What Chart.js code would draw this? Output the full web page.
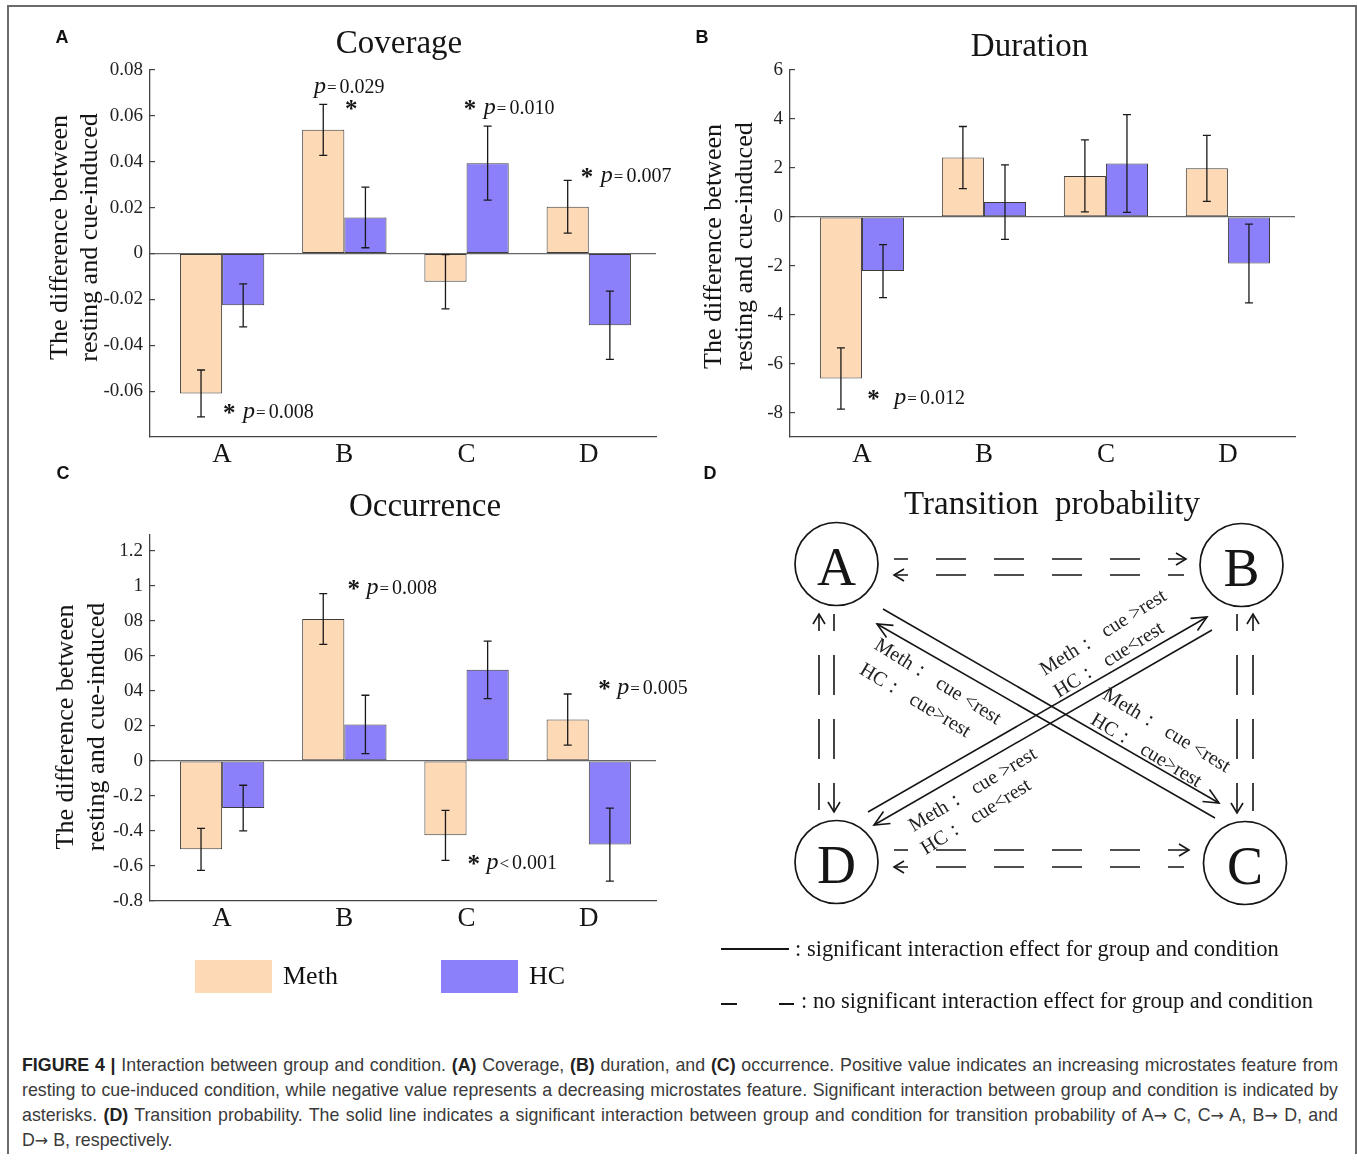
<!DOCTYPE html>
<html>
<head>
<meta charset="utf-8">
<title>Figure 4 - Interaction between group and condition</title>
<script src="https://cdn.jsdelivr.net/npm/chart.js@4.4.0/dist/chart.umd.min.js"></script>
<style>
  html, body { margin: 0; padding: 0; background: #fff; }
  body { width: 1357px; height: 1161px; position: relative; overflow: hidden; }
  .frame { position: absolute; left: 7px; top: 5px; width: 1346px; height: 1147px;
           border: 2px solid #6b6b6b; border-bottom: none; }
  canvas { position: absolute; }
  .tag { position: absolute; font: bold 18px 'Liberation Sans', Arial, sans-serif; color: #111;
         transform: translate(-50%, -50%); }
  .legend-box { position: absolute; width: 77px; height: 33px; }
  .legend-text { position: absolute; font: 26px 'Liberation Serif', serif; color: #111;
                 transform: translateY(-50%); }
  #panelD { position: absolute; left: 0; top: 0; }
  .caption { position: absolute; left: 22px; top: 1053px; width: 1316px;
             font: 16px 'Liberation Sans', Arial, sans-serif; color: #3a3a3a; }
  .caption div { height: 25px; line-height: 25px; white-space: nowrap;
                 text-align: justify; text-align-last: justify; }
  .caption div.last { text-align-last: left; }
  .caption b { color: #222; }
  .arr { font-family: 'DejaVu Sans', sans-serif; font-size: 0.9em; }
  .measure { position: absolute; visibility: hidden; white-space: nowrap;
             font: 16px 'Liberation Sans', Arial, sans-serif; }
</style>
</head>
<body>
<div class="frame"></div>

<canvas id="coverage" width="680" height="470" style="left:0px; top:0px;"></canvas>
<canvas id="duration" width="677" height="470" style="left:680px; top:0px;"></canvas>
<canvas id="occurrence" width="720" height="480" style="left:0px; top:470px;"></canvas>
<svg id="panelD" width="1357" height="1040" xmlns="http://www.w3.org/2000/svg"></svg>

<div class="tag" style="left:62px; top:37px;">A</div>
<div class="tag" style="left:702px; top:37px;">B</div>
<div class="tag" style="left:63px; top:473px;">C</div>
<div class="tag" style="left:710px; top:473px;">D</div>

<div id="legend"></div>

<div class="caption" id="caption">
  <div><b>FIGURE 4 |</b> Interaction between group and condition. <b>(A)</b> Coverage, <b>(B)</b> duration, and <b>(C)</b> occurrence. Positive value indicates an increasing microstates feature from</div>
  <div>resting to cue-induced condition, while negative value represents a decreasing microstates feature. Significant interaction between group and condition is indicated by</div>
  <div>asterisks. <b>(D)</b> Transition probability. The solid line indicates a significant interaction between group and condition for transition probability of A<span class="arr">→</span> C, C<span class="arr">→</span> A, B<span class="arr">→</span> D, and</div>
  <div class="last">D<span class="arr">→</span> B, respectively.</div>
</div>

<script>
// ---- data ----
const CATEGORIES = ['A', 'B', 'C', 'D'];
const GROUPS = ['Meth', 'HC'];

const coverageMeth = [-0.061, 0.0539, -0.0123, 0.0204];
const coverageMethErr = [0.0102, 0.0111, 0.0118, 0.0115];
const coverageHC = [-0.0226, 0.0157, 0.0394, -0.0313];
const coverageHCErr = [0.0094, 0.0132, 0.0161, 0.0149];
const coverageTicks = [-0.06, -0.04, -0.02, 0, 0.02, 0.04, 0.06, 0.08];
const coverageTickLabels = ['-0.06', '-0.04', '-0.02', '0', '0.02', '0.04', '0.06', '0.08'];

const durationMeth = [-6.61, 2.42, 1.67, 1.98];
const durationMethErr = [1.25, 1.27, 1.47, 1.35];
const durationHC = [-2.22, 0.60, 2.18, -1.91];
const durationHCErr = [1.08, 1.52, 2.0, 1.61];
const durationTicks = [-8, -6, -4, -2, 0, 2, 4, 6];
const durationTickLabels = ['-8', '-6', '-4', '-2', '0', '2', '4', '6'];

const occurrenceMeth = [-0.505, 0.81, -0.425, 0.236];
const occurrenceMethErr = [0.12, 0.145, 0.143, 0.146];
const occurrenceHC = [-0.269, 0.208, 0.52, -0.478];
const occurrenceHCErr = [0.13, 0.167, 0.164, 0.208];
const occurrenceTicks = [-0.8, -0.6, -0.4, -0.2, 0, 0.2, 0.4, 0.6, 0.8, 1, 1.2];
const occurrenceTickLabels = ['-0.8', '-0.6', '-0.4', '-0.2', '0', '02', '04', '06', '08', '1', '1.2'];

// significance notes (anchor in data units)
const coverageNotes = [
    { x: 1.752, y: 0.0730, star: false, op: '=', p: '0.029' },
    { x: 2.014, y: 0.0639, star: true, op: '', p: '' },
    { x: 2.986, y: 0.0639, star: true, op: '=', p: '0.010' },
    { x: 3.943, y: 0.0343, star: true, op: '=', p: '0.007' },
    { x: 1.016, y: -0.0687, star: true, op: '=', p: '0.008' }
];
const durationNotes = [
    { x: 1.052, y: -7.35, star: true, op: '=', p: '0.012' }
];
const occurrenceNotes = [
    { x: 2.034, y: 0.995, star: true, op: '=', p: '0.008' },
    { x: 4.085, y: 0.421, star: true, op: '=', p: '0.005' },
    { x: 3.015, y: -0.58, star: true, op: '<', p: '0.001' }
];

const Y_TITLE = ['The difference between', 'resting and cue-induced'];

const METH_COLOR = '#FDD9B6';
const HC_COLOR = '#8C7FFA';
const AXIS_COLOR = '#444';
const ZERO_COLOR = '#666';
const INK = '#151515';
const SERIF = "'Liberation Serif', 'Times New Roman', serif";

// ---- plugins ----
const errorBarPlugin = {
    id: 'errorBars',
    afterDatasetsDraw(chart) {
        const { ctx, scales: { y } } = chart;
        ctx.save();
        ctx.strokeStyle = '#1a1a1a';
        ctx.lineWidth = 1.3;
        chart.data.datasets.forEach((ds, di) => {
            chart.getDatasetMeta(di).data.forEach((bar, i) => {
                const v = ds.data[i].y;
                const e = ds.errors[i];
                const top = y.getPixelForValue(v + e);
                const bot = y.getPixelForValue(v - e);
                ctx.beginPath();
                ctx.moveTo(bar.x, top); ctx.lineTo(bar.x, bot);
                ctx.moveTo(bar.x - 4, top); ctx.lineTo(bar.x + 4, top);
                ctx.moveTo(bar.x - 4, bot); ctx.lineTo(bar.x + 4, bot);
                ctx.stroke();
            });
        });
        ctx.restore();
    }
};

const panelTextPlugin = {
    id: 'panelText',
    afterDraw(chart, args, opts) {
        const { ctx, chartArea: a, scales: { x, y } } = chart;
        ctx.save();
        ctx.fillStyle = INK;

        // title
        ctx.font = '33px ' + SERIF;
        ctx.textAlign = 'center';
        ctx.textBaseline = 'middle';
        ctx.fillText(opts.title, (a.left + a.right) / 2 + opts.titleDx, a.top + opts.titleDy);

        // y axis title, two rotated lines
        ctx.font = '26px ' + SERIF;
        Y_TITLE.forEach((line, i) => {
            ctx.save();
            ctx.translate(a.left + opts.yTitleDx[i], (a.top + a.bottom) / 2 + opts.yTitleDy);
            ctx.rotate(-Math.PI / 2);
            ctx.fillText(line, 0, 0);
            ctx.restore();
        });

        // significance notes
        ctx.textAlign = 'left';
        ctx.textBaseline = 'alphabetic';
        opts.notes.forEach(n => {
            let px = x.getPixelForValue(n.x);
            const base = y.getPixelForValue(n.y) + 7;
            if (n.star) {
                ctx.font = 'bold 25px ' + SERIF;
                ctx.fillText('*', px - 1, base + 3);
                px += opts.starGap;
            }
            if (n.p) {
                ctx.font = 'italic 24px ' + SERIF;
                ctx.fillText('p', px, base);
                px += ctx.measureText('p').width + 1;
                ctx.font = '17px ' + SERIF;
                ctx.fillText(n.op, px, base);
                px += ctx.measureText(n.op).width + 3;
                ctx.font = '20px ' + SERIF;
                ctx.fillText(n.p, px, base);
            }
        });
        ctx.restore();
    }
};

function makeBarChart(id, o) {
    const dataset = (label, vals, errs, color) => ({
        label: label,
        data: vals.map((v, i) => ({ x: i + 1, y: v })),
        errors: errs,
        backgroundColor: color,
        borderColor: '#3c3c3c',
        borderWidth: 1,
        borderSkipped: false,
        categoryPercentage: 0.69,
        barPercentage: 1
    });

    return new Chart(document.getElementById(id), {
        type: 'bar',
        data: {
            datasets: [
                dataset(GROUPS[0], o.meth, o.methErr, METH_COLOR),
                dataset(GROUPS[1], o.hc, o.hcErr, HC_COLOR)
            ]
        },
        options: {
            responsive: false,
            animation: false,
            devicePixelRatio: 1,
            layout: { padding: o.padding },
            plugins: {
                legend: { display: false },
                tooltip: { enabled: false },
                panelText: {
                    title: o.title,
                    titleDx: o.titleDx,
                    titleDy: o.titleDy,
                    yTitleDx: o.yTitleDx,
                    yTitleDy: o.yTitleDy,
                    notes: o.notes,
                    starGap: o.starGap
                }
            },
            scales: {
                x: {
                    type: 'linear',
                    min: 0.41,
                    max: 4.55,
                    offset: false,
                    afterBuildTicks: s => { s.ticks = CATEGORIES.map((c, i) => ({ value: i + 1 })); },
                    afterFit: s => { s.height = 30; },
                    grid: { display: false, drawTicks: false, offset: false },
                    border: { color: AXIS_COLOR, width: 1.3 },
                    ticks: {
                        padding: 2,
                        autoSkip: false,
                        maxRotation: 0,
                        color: INK,
                        font: { family: SERIF, size: 27 },
                        callback: v => CATEGORIES[v - 1]
                    }
                },
                y: {
                    min: o.yMin,
                    max: o.yMax,
                    afterBuildTicks: s => { s.ticks = o.ticks.map(v => ({ value: v })); },
                    afterFit: s => { s.width = o.yWidth; },
                    grid: {
                        color: c => (c.tick && c.tick.value === 0) ? ZERO_COLOR : 'rgba(0,0,0,0)',
                        tickColor: AXIS_COLOR,
                        tickLength: -5,
                        lineWidth: 1.2
                    },
                    border: { color: AXIS_COLOR, width: 1.3 },
                    ticks: {
                        padding: 12,
                        autoSkip: false,
                        color: '#222',
                        font: { family: SERIF, size: 19 },
                        callback: (v, i) => o.tickLabels[i]
                    }
                }
            }
        },
        plugins: [errorBarPlugin, panelTextPlugin]
    });
}

makeBarChart('coverage', {
    title: 'Coverage', titleDx: -4, titleDy: -26,
    yTitleDx: [-90, -60], yTitleDy: -16,
    meth: coverageMeth, methErr: coverageMethErr, hc: coverageHC, hcErr: coverageHCErr,
    yMin: -0.08, yMax: 0.08, ticks: coverageTicks, tickLabels: coverageTickLabels,
    notes: coverageNotes, starGap: 19,
    yWidth: 150, padding: { left: 0, top: 70, right: 24, bottom: 3 }
});

makeBarChart('duration', {
    title: 'Duration', titleDx: -13, titleDy: -23,
    yTitleDx: [-76, -45], yTitleDy: -7,
    meth: durationMeth, methErr: durationMethErr, hc: durationHC, hcErr: durationHCErr,
    yMin: -9, yMax: 6, ticks: durationTicks, tickLabels: durationTickLabels,
    notes: durationNotes, starGap: 26,
    yWidth: 110, padding: { left: 0, top: 70, right: 62, bottom: 3 }
});

makeBarChart('occurrence', {
    title: 'Occurrence', titleDx: 22, titleDy: -28,
    yTitleDx: [-84, -53], yTitleDy: 9,
    meth: occurrenceMeth, methErr: occurrenceMethErr, hc: occurrenceHC, hcErr: occurrenceHCErr,
    yMin: -0.8, yMax: 1.29, ticks: occurrenceTicks, tickLabels: occurrenceTickLabels,
    notes: occurrenceNotes, starGap: 18,
    yWidth: 150, padding: { left: 0, top: 65, right: 64, bottom: 19 }
});

// legend under panel C
(function buildLegend() {
    const box = document.getElementById('legend');
    const items = [
        { name: GROUPS[0], color: METH_COLOR, left: 195 },
        { name: GROUPS[1], color: HC_COLOR, left: 441 }
    ];
    items.forEach(it => {
        const sw = document.createElement('div');
        sw.className = 'legend-box';
        sw.style.left = it.left + 'px';
        sw.style.top = '960px';
        sw.style.background = it.color;
        box.appendChild(sw);
        const tx = document.createElement('div');
        tx.className = 'legend-text';
        tx.style.left = (it.left + 88) + 'px';
        tx.style.top = '976px';
        tx.textContent = it.name;
        box.appendChild(tx);
    });
})();

// fit caption font so the justified lines fill the column like the original
(function fitCaption() {
    const cap = document.getElementById('caption');
    const lines = Array.from(cap.querySelectorAll('div')).slice(0, 3);
    let widest = 0;
    lines.forEach(d => {
        const m = document.createElement('span');
        m.className = 'measure';
        m.innerHTML = d.innerHTML;
        document.body.appendChild(m);
        widest = Math.max(widest, m.getBoundingClientRect().width);
        m.remove();
    });
    const size = Math.floor(16 * 1316 / widest * 0.995 * 10) / 10;
    cap.style.fontSize = size + 'px';
})();

// ---- panel D: transition probability diagram ----
(function drawTransitions() {
    const NS = 'http://www.w3.org/2000/svg';
    const svg = document.getElementById('panelD');

    function add(tag, attrs, text) {
        const e = document.createElementNS(NS, tag);
        for (const k in attrs) e.setAttribute(k, attrs[k]);
        if (text) e.textContent = text;
        svg.appendChild(e);
        return e;
    }

    function chevron(tx, ty, dx, dy, len, half) {
        const n = Math.hypot(dx, dy);
        dx /= n; dy /= n;
        const bx = tx - dx * len, by = ty - dy * len;
        add('path', {
            d: `M${bx - dy * half},${by + dx * half} L${tx},${ty} L${bx + dy * half},${by - dx * half}`,
            fill: 'none', stroke: INK, 'stroke-width': 1.6
        });
    }

    function link(l, len, half) {
        const [x1, y1] = l.from, [x2, y2] = l.to;
        const attrs = { x1, y1, x2, y2, stroke: INK, 'stroke-width': 1.6 };
        if (l.dash) {
            attrs['stroke-dasharray'] = l.dash;
            attrs['stroke-dashoffset'] = l.off;
        }
        add('line', attrs);
        if (l.head === 'end') chevron(x2, y2, x2 - x1, y2 - y1, len, half);
        else chevron(x1, y1, x1 - x2, y1 - y2, len, half);
    }

    add('text', {
        x: 1052, y: 503, 'font-family': SERIF, 'font-size': 33, fill: INK,
        'text-anchor': 'middle', 'dominant-baseline': 'central', style: 'white-space:pre'
    }, 'Transition  probability');

    const nodes = { A: [836.5, 564], B: [1241.5, 565], C: [1245, 863], D: [836.5, 862] };
    Object.keys(nodes).forEach(k => {
        const [cx, cy] = nodes[k];
        add('circle', { cx, cy, r: 41.5, fill: 'none', stroke: INK, 'stroke-width': 1.7 });
        add('text', {
            x: cx, y: cy + 3, 'font-family': SERIF, 'font-size': 54, fill: INK,
            'text-anchor': 'middle', 'dominant-baseline': 'central'
        }, k);
    });

    // non-significant transitions (dashed)
    const H = { dash: '30 28', off: 16 };
    const V = { dash: '40 24', off: 23 };
    const dashed = [
        { from: [894, 559], to: [1186, 559], head: 'end', ...H },   // A -> B
        { from: [894, 575], to: [1184, 575], head: 'start', ...H }, // B -> A
        { from: [894, 850], to: [1189, 850], head: 'end', ...H },   // D -> C
        { from: [894, 867], to: [1184, 867], head: 'start', ...H }, // C -> D
        { from: [819, 614], to: [819, 810], head: 'start', ...V },  // D -> A
        { from: [834, 614], to: [834, 812], head: 'end', ...V },    // A -> D
        { from: [1237, 614], to: [1237, 813], head: 'end', ...V },  // B -> C
        { from: [1253, 614], to: [1253, 811], head: 'start', ...V } // C -> B
    ];
    dashed.forEach(l => link(l, 10, 6));

    // significant transitions (solid)
    const solid = [
        { from: [883, 609], to: [1219, 803], head: 'end' },  // A -> C
        { from: [1215, 818], to: [877, 624], head: 'end' },  // C -> A
        { from: [868, 812], to: [1207, 617], head: 'end' },  // D -> B
        { from: [1212, 630], to: [874, 825], head: 'end' }   // B -> D
    ];
    solid.forEach(l => link(l, 15, 7));

    const labels = [
        { x: 877, y: 642, a: 32, t: 'Meth：  cue <rest' },
        { x: 862, y: 667, a: 31, t: 'HC：  cue>rest' },
        { x: 1105, y: 692, a: 31, t: 'Meth：  cue <rest' },
        { x: 1093, y: 717, a: 31, t: 'HC：  cue>rest' },
        { x: 1041, y: 670, a: -32, t: 'Meth：  cue >rest' },
        { x: 1055, y: 692, a: -32, t: 'HC：  cue<rest' },
        { x: 910, y: 826, a: -31, t: 'Meth：  cue >rest' },
        { x: 922, y: 849, a: -32, t: 'HC：  cue<rest' }
    ];
    labels.forEach(l => {
        add('text', {
            x: l.x, y: l.y, transform: `rotate(${l.a} ${l.x} ${l.y})`,
            'font-family': SERIF, 'font-size': 20, fill: '#222',
            'dominant-baseline': 'central', style: 'white-space:pre'
        }, l.t);
    });

    // key
    add('line', { x1: 721, y1: 949, x2: 789, y2: 949, stroke: INK, 'stroke-width': 2 });
    add('text', {
        x: 795, y: 948, 'font-family': SERIF, 'font-size': 22.5, fill: INK, 'dominant-baseline': 'central'
    }, ': significant interaction effect for group and condition');
    add('line', { x1: 721, y1: 1004, x2: 737, y2: 1004, stroke: INK, 'stroke-width': 2 });
    add('line', { x1: 779, y1: 1004, x2: 794, y2: 1004, stroke: INK, 'stroke-width': 2 });
    add('text', {
        x: 801, y: 1000, 'font-family': SERIF, 'font-size': 22.5, fill: INK, 'dominant-baseline': 'central'
    }, ': no significant interaction effect for group and condition');
})();
</script>
</body>
</html>
